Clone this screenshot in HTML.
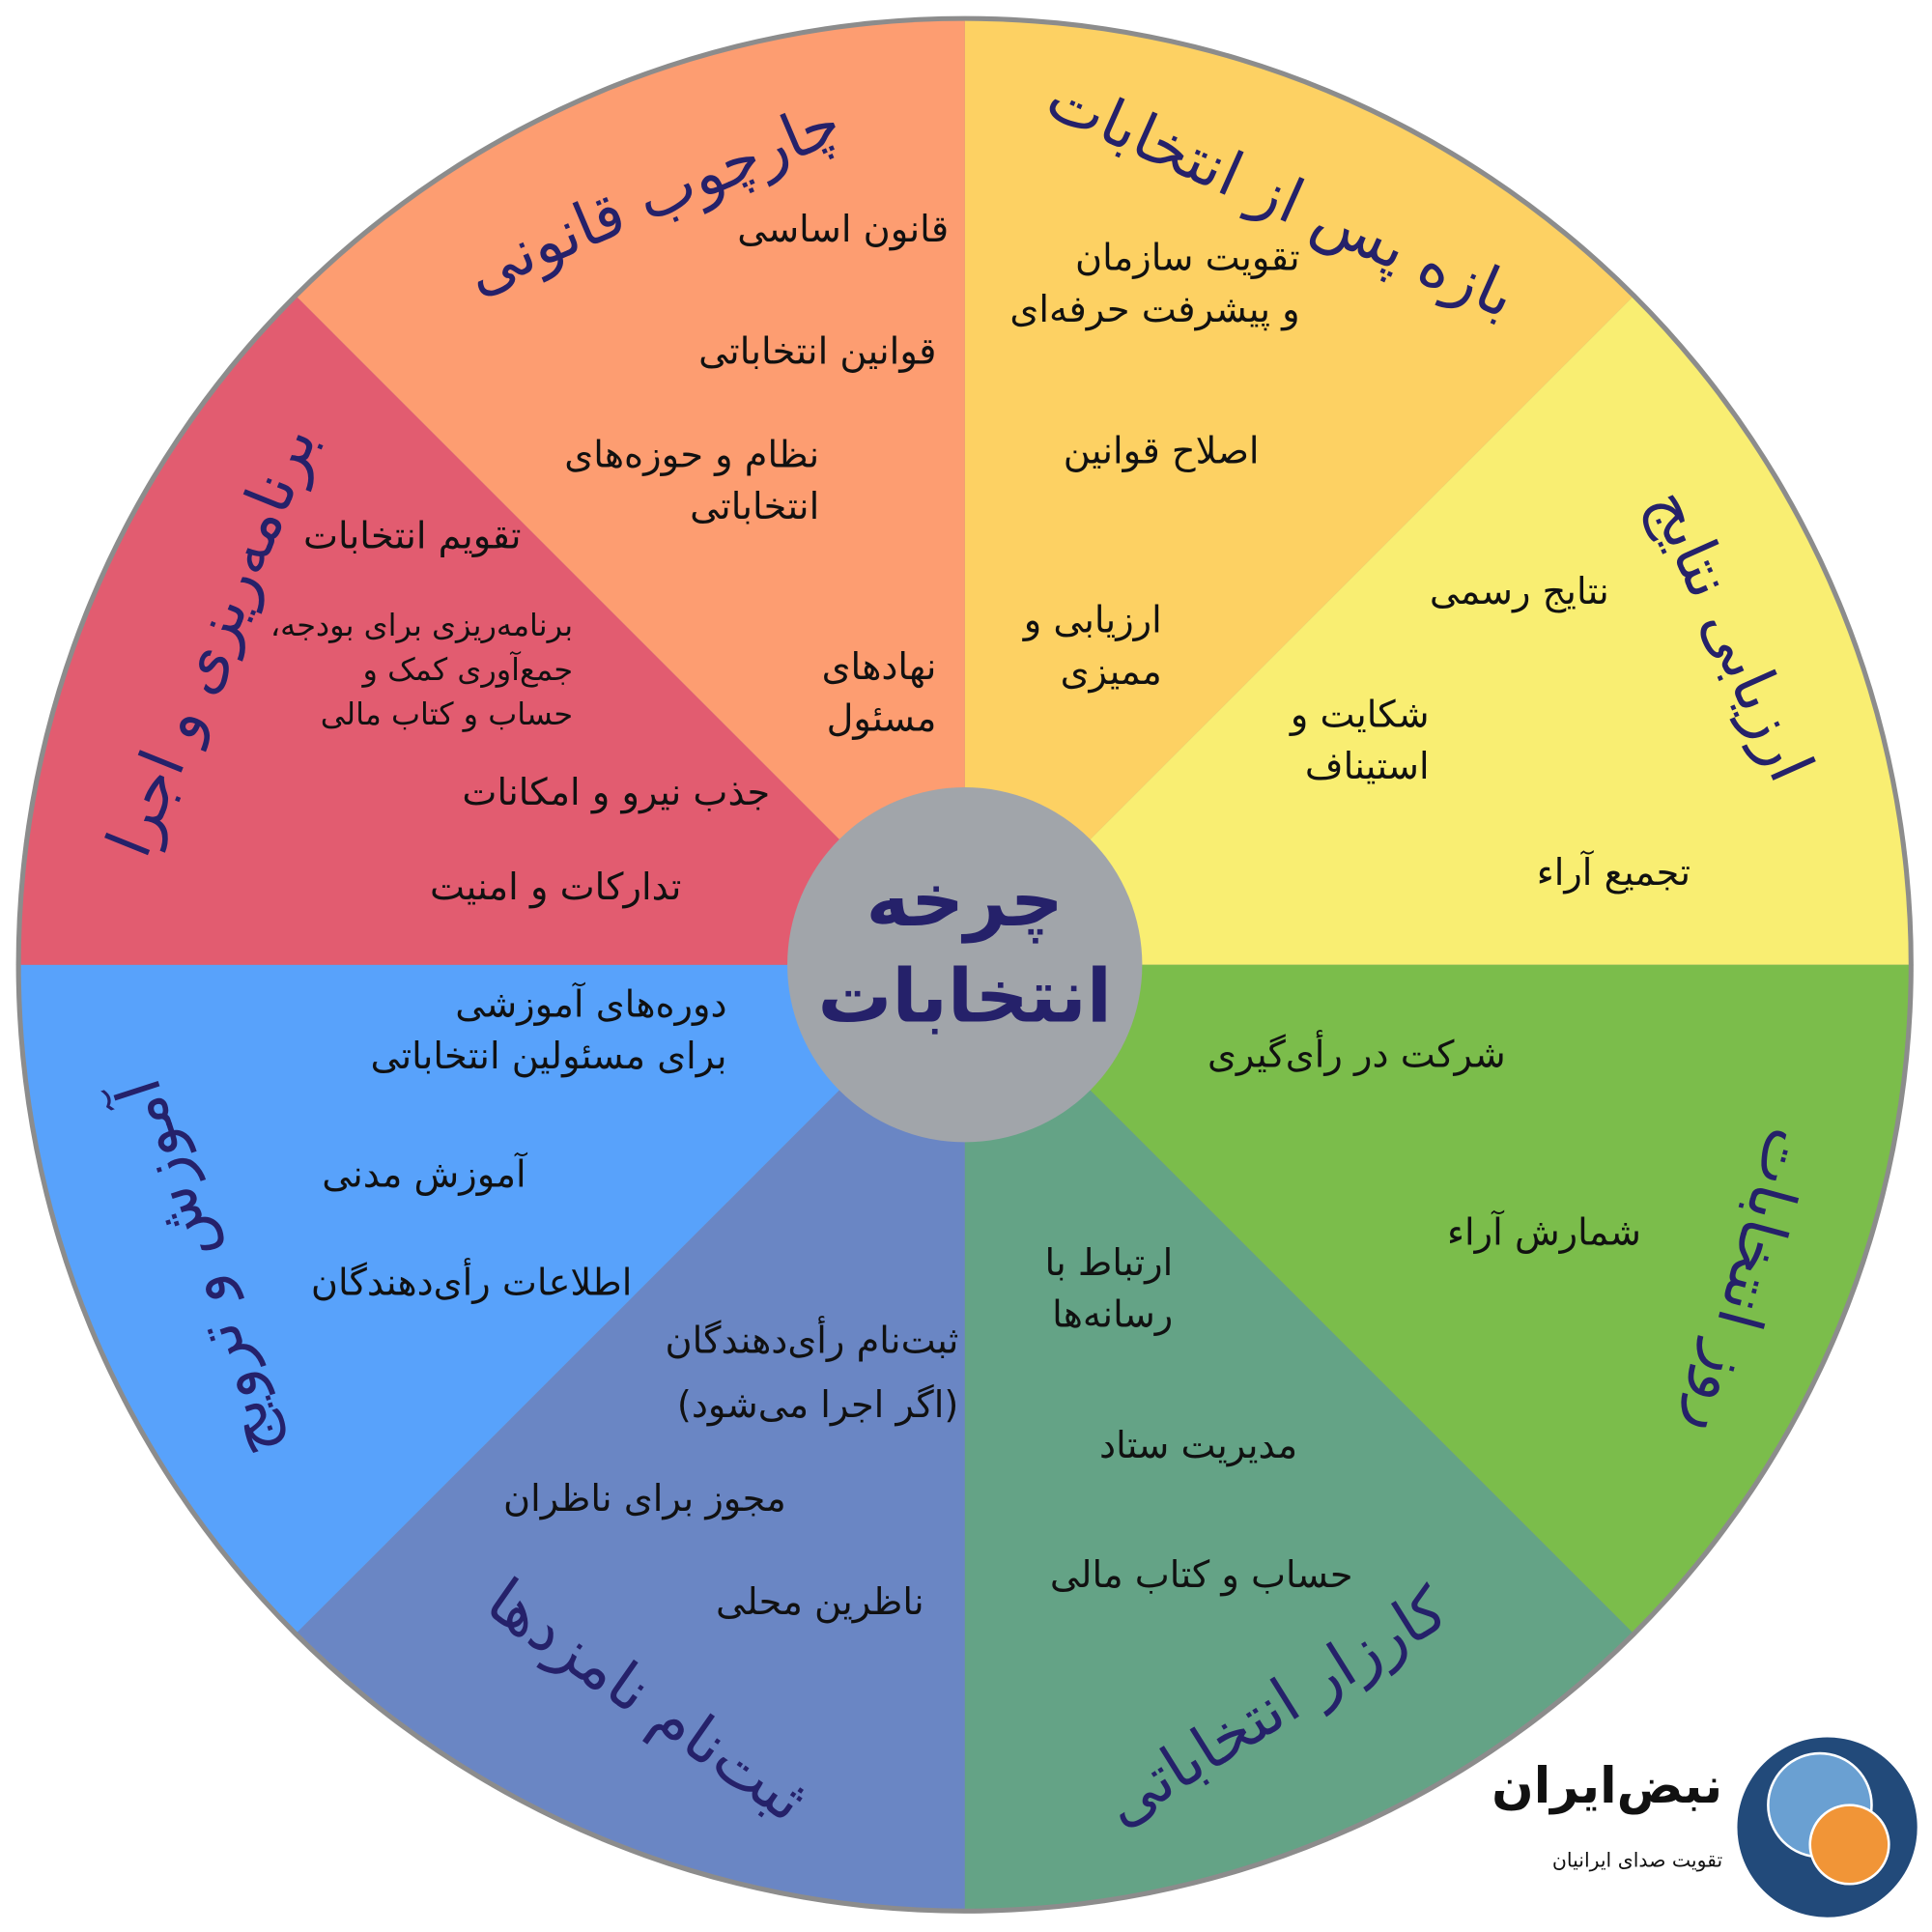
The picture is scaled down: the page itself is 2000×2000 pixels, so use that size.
<!DOCTYPE html>
<html><head><meta charset="utf-8"><style>
html,body{margin:0;padding:0;background:#fff;}
#wrap{width:2000px;height:2000px;overflow:hidden;position:relative;}
#c{position:absolute;left:0;top:0;width:1568px;height:1568px;transform:scale(1.27551);transform-origin:0 0;font-family:"DejaVu Sans","Liberation Sans",sans-serif;}
.t{position:absolute;direction:rtl;text-align:right;white-space:nowrap;color:#111;font-size:30px;line-height:42px;}
.h{position:absolute;white-space:nowrap;color:#25216A;font-size:50px;direction:rtl;transform:translate(-50%,-50%);}
</style></head><body><div id="wrap"><div id="c">
<svg width="1568" height="1568" viewBox="0 0 1568 1568" style="position:absolute;left:0;top:0">
<circle cx="783" cy="783" r="770" fill="#8c8c8c"/>
<g transform="translate(783,783)">
<path d="M0,0 L0,-766 A766,766 0 0 1 541.6,-541.6Z" fill="#FDD163"/>
<path d="M0,0 L541.6,-541.6 A766,766 0 0 1 766,0Z" fill="#F9EE72"/>
<path d="M0,0 L766,0 A766,766 0 0 1 541.6,541.6Z" fill="#7BBD4B"/>
<path d="M0,0 L541.6,541.6 A766,766 0 0 1 0,766Z" fill="#64A386"/>
<path d="M0,0 L0,766 A766,766 0 0 1 -541.6,541.6Z" fill="#6A86C4"/>
<path d="M0,0 L-541.6,541.6 A766,766 0 0 1 -766,0Z" fill="#58A2FB"/>
<path d="M0,0 L-766,0 A766,766 0 0 1 -541.6,-541.6Z" fill="#E25C70"/>
<path d="M0,0 L-541.6,-541.6 A766,766 0 0 1 0,-766Z" fill="#FD9D71"/>
<circle r="144" fill="#A1A5AA"/>
</g>
<circle cx="1483" cy="1483" r="73" fill="#224A7A"/>
<circle cx="1477" cy="1465" r="42" fill="#6AA0D2" stroke="#fff" stroke-width="2"/>
<circle cx="1501" cy="1497" r="32" fill="#F19537" stroke="#fff" stroke-width="2"/>
</svg>

<div class="t" style="right:798px;top:166px">قانون اساسی</div>
<div class="t" style="right:808px;top:265px">قوانین انتخاباتی</div>
<div class="t" style="right:903px;top:349px">نظام و حوزه‌های<br>انتخاباتی</div>
<div class="t" style="right:808px;top:521px">نهادهای<br>مسئول</div>

<div class="t" style="right:513px;top:189px">تقویت سازمان<br>و پیشرفت حرفه‌ای</div>
<div class="t" style="right:546px;top:346px">اصلاح قوانین</div>
<div class="t" style="right:625px;top:483px">ارزیابی و<br>ممیزی</div>

<div class="t" style="right:262px;top:460px">نتایج رسمی</div>
<div class="t" style="right:408px;top:560px">شکایت و<br>استیناف</div>
<div class="t" style="right:196px;top:688px">تجمیع آراء</div>

<div class="t" style="right:346px;top:836px">شرکت در رأی‌گیری</div>
<div class="t" style="right:236px;top:980px">شمارش آراء</div>

<div class="t" style="right:616px;top:1005px">ارتباط با<br>رسانه‌ها</div>
<div class="t" style="right:515px;top:1153px">مدیریت ستاد</div>
<div class="t" style="right:470px;top:1258px">حساب و کتاب مالی</div>

<div class="t" style="right:790px;top:1063px;line-height:52px">ثبت‌نام رأی‌دهندگان<br>(اگر اجرا می‌شود)</div>
<div class="t" style="right:930px;top:1196px">مجوز برای ناظران</div>
<div class="t" style="right:818px;top:1280px">ناظرین محلی</div>

<div class="t" style="right:978px;top:795px">دوره‌های آموزشی<br>برای مسئولین انتخاباتی</div>
<div class="t" style="right:1141px;top:933px">آموزش مدنی</div>
<div class="t" style="right:1055px;top:1021px">اطلاعات رأی‌دهندگان</div>

<div class="t" style="right:1145px;top:415px">تقویم انتخابات</div>
<div class="t" style="right:1103px;top:490px;font-size:25px;line-height:36px">برنامه‌ریزی برای بودجه،<br>جمع‌آوری کمک و<br>حساب و کتاب مالی</div>
<div class="t" style="right:943px;top:623px">جذب نیرو و امکانات</div>
<div class="t" style="right:1015px;top:700px">تدارکات و امنیت</div>

<div class="h" style="left:783px;top:770px;font-size:60px;font-weight:bold;text-align:center;line-height:78px;direction:rtl">چرخه<br>انتخابات</div>

<div class="h" style="left:530px;top:160px;transform:translate(-50%,-50%) rotate(-23deg)">چارچوب قانونی</div>
<div class="h" style="left:1040px;top:160px;transform:translate(-50%,-50%) rotate(24deg)">بازه پس از انتخابات</div>
<div class="h" style="left:1405px;top:515px;transform:translate(-50%,-50%) rotate(66deg)">ارزیابی نتایج</div>
<div class="h" style="left:1420px;top:1040px;transform:translate(-50%,-50%) rotate(105deg)">روز انتخابات</div>
<div class="h" style="left:1035px;top:1385px;transform:translate(-50%,-50%) rotate(-32deg)">کارزار انتخاباتی</div>
<div class="h" style="left:525px;top:1380px;transform:translate(-50%,-50%) rotate(35deg)">ثبت‌نام نامزدها</div>
<div class="h" style="left:160px;top:1030px;transform:translate(-50%,-50%) rotate(-108deg)">آموزش و ترویج</div>
<div class="h" style="left:172px;top:520px;transform:translate(-50%,-50%) rotate(-68deg)">برنامه‌ریزی و اجرا</div>

<div class="t" style="right:170px;top:1425px;font-size:40px;font-weight:bold;line-height:50px">نبض‌ایران</div>
<div class="t" style="right:170px;top:1498px;font-size:16px;line-height:24px">تقویت صدای ایرانیان</div>
</div></div></body></html>
